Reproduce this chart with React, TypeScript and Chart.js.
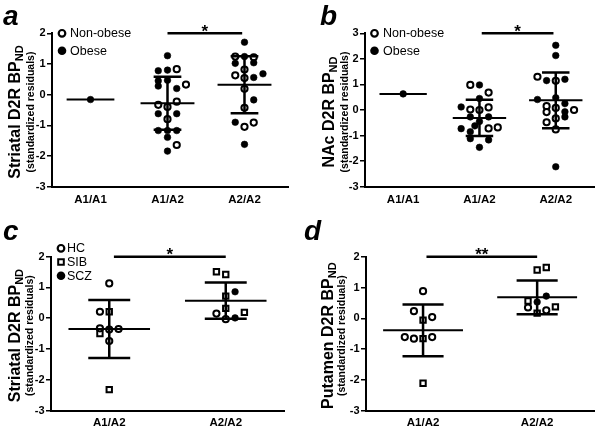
import React, { useEffect, useRef } from 'react';
import { Chart, registerables } from 'chart.js';
Chart.register(...registerables);

const FONT = '"Liberation Sans", Arial, Helvetica, sans-serif';

// [group (1-based category), jitter (x units), value]
type Pt = [number, number, number];
type Marker = 'open' | 'filled' | 'square';

// ---------------- Panel a ----------------
const catsAB = ['A1/A1', 'A1/A2', 'A2/A2'];
const catsCD = ['A1/A2', 'A2/A2'];

const aNonObese: Pt[] = [
  [2, 0.12, 0.83], [2, 0.24, 0.33], [2, -0.12, -0.33], [2, 0, -0.40], [2, 0.12, -0.23], [2, 0, -0.80], [2, 0.12, -1.64],
  [3, -0.12, 1.24], [3, 0.12, 1.22], [3, 0, 0.82], [3, -0.12, 0.63], [3, 0, 0.54], [3, 0, 0.19], [3, 0, -0.43], [3, 0, -1.05], [3, 0.12, -0.91],
];
const aObese: Pt[] = [
  [1, 0, -0.16],
  [2, 0, 1.27], [2, -0.12, 0.78], [2, 0, 0.80], [2, -0.12, 0.45], [2, 0, 0.47], [2, -0.12, 0.28], [2, 0.12, 0.20],
  [2, -0.12, -0.62], [2, 0.12, -0.62], [2, -0.12, -1.17], [2, 0, -1.17], [2, 0.12, -1.17], [2, 0, -1.39], [2, 0, -1.84],
  [3, 0, 1.71], [3, 0, 1.24], [3, -0.12, 1.02], [3, 0.12, 1.04], [3, 0.12, 0.56], [3, 0.24, 0.68], [3, 0.12, -0.17],
  [3, -0.12, -0.90], [3, 0, -1.62],
];
const aMeans = [-0.16, -0.28, 0.32];
const aSDs = [0, 0.86, 0.93];

// ---------------- Panel b ----------------
const bNonObese: Pt[] = [
  [2, -0.12, 0.98], [2, 0.12, 0.68], [2, -0.12, 0.02], [2, 0, 0.0], [2, 0.12, 0.10], [2, 0.12, -0.72], [2, 0.24, -0.68],
  [3, -0.24, 1.30], [3, 0, 1.14], [3, -0.12, 0.15], [3, 0, 0.08], [3, -0.12, -0.08], [3, 0.24, 0.0], [3, 0, -0.33],
  [3, -0.12, -0.48], [3, 0, -0.76],
];
const bObese: Pt[] = [
  [1, 0, 0.63],
  [2, 0, 0.98], [2, 0, 0.45], [2, -0.24, 0.12], [2, -0.12, -0.27], [2, 0.12, -0.27], [2, 0, -0.45], [2, -0.06, -0.62],
  [2, -0.24, -0.73], [2, -0.12, -0.85], [2, -0.12, -1.12], [2, 0.12, -1.17], [2, 0, -1.46],
  [3, 0, 2.53], [3, 0, 2.13], [3, -0.12, 1.15], [3, 0.12, 1.20], [3, -0.24, 0.41], [3, 0, 0.48], [3, 0.12, 0.25],
  [3, 0.12, -0.07], [3, 0.12, -0.27], [3, 0, -2.22],
];
const bMeans = [0.63, -0.31, 0.38];
const bSDs = [0, 0.71, 1.09];

// ---------------- Panel c ----------------
const cHC: Pt[] = [
  [1, 0, 1.13], [1, -0.08, 0.21], [1, -0.08, -0.33], [1, 0, -0.37], [1, 0.08, -0.35], [1, 0, -0.74],
  [2, -0.08, 0.15], [2, 0, -0.03],
];
const cSIB: Pt[] = [
  [1, 0, 0.21], [1, -0.08, -0.50], [1, 0, -2.32],
  [2, -0.08, 1.51], [2, 0, 1.42], [2, 0, 0.72], [2, 0, 0.32], [2, 0.16, 0.19],
];
const cSCZ: Pt[] = [[2, 0.08, 0.86], [2, 0.08, 0.01]];
const cMeans = [-0.35, 0.57];
const cSDs = [0.94, 0.59];

// ---------------- Panel d ----------------
const dHC: Pt[] = [
  [1, 0, 0.88], [1, -0.08, 0.23], [1, 0.08, 0.04], [1, -0.16, -0.61], [1, -0.08, -0.66], [1, 0.08, -0.61],
  [2, -0.08, 0.35], [2, 0.08, 0.26],
];
const dSIB: Pt[] = [
  [1, 0, -0.06], [1, 0, -0.66], [1, 0, -2.11],
  [2, 0, 1.57], [2, 0.08, 1.65], [2, -0.08, 0.56], [2, 0.16, 0.37], [2, 0, 0.17],
];
const dSCZ: Pt[] = [[2, 0.08, 0.72], [2, 0, 0.53]];
const dMeans = [-0.39, 0.68];
const dSDs = [0.84, 0.55];

interface SeriesDef { name: string; marker: Marker; pts: Pt[] }
interface PanelDef {
  letter: string;
  cats: string[];
  series: SeriesDef[];
  legend: boolean;
  means: number[];
  sds: number[];
  sig: { from: number; to: number; y: number; label: string };
  yMin: number;
  yMax: number;
  xMax: number;
  titleMain: string;
  titleSub: string;
  titleNote: string;
  box: { left: number; top: number; w: number; h: number };
  geo: {
    axisLeft: number; top: number; bottom: number; right: number;
    titleX: number; noteX: number; letterX: number;
    legendX: number; legendTextX: number; legendY: number; legendGap: number; labelPad: number;
  };
}

const panels: PanelDef[] = [
  {
    letter: 'a', cats: catsAB, legend: true,
    series: [
      { name: 'Obese', marker: 'filled', pts: aObese },
      { name: 'Non-obese', marker: 'open', pts: aNonObese },
    ],
    means: aMeans, sds: aSDs,
    sig: { from: 2.0, to: 2.97, y: 2, label: '*' },
    yMin: -3, yMax: 2, xMax: 3.565,
    titleMain: 'Striatal D2R BP', titleSub: 'ND', titleNote: '(standardized residuals)',
    box: { left: 0, top: 0, w: 300, h: 215 },
    geo: { axisLeft: 52, top: 33.3, bottom: 186.7, right: 288, titleX: 14, noteX: 31, letterX: 3,
      legendX: 62, legendTextX: 70, legendY: 33.3, legendGap: 17.5, labelPad: 6.5 },
  },
  {
    letter: 'b', cats: catsAB, legend: true,
    series: [
      { name: 'Obese', marker: 'filled', pts: bObese },
      { name: 'Non-obese', marker: 'open', pts: bNonObese },
    ],
    means: bMeans, sds: bSDs,
    sig: { from: 2.03, to: 2.97, y: 3, label: '*' },
    yMin: -3, yMax: 3, xMax: 3.513,
    titleMain: 'NAc D2R BP', titleSub: 'ND', titleNote: '(standardized residuals)',
    box: { left: 300, top: 0, w: 300, h: 215 },
    geo: { axisLeft: 65, top: 33.3, bottom: 186.7, right: 297, titleX: 28, noteX: 45, letterX: 20,
      legendX: 74.5, legendTextX: 83, legendY: 33.3, legendGap: 17.5, labelPad: 6.5 },
  },
  {
    letter: 'c', cats: catsCD, legend: true,
    series: [
      { name: 'HC', marker: 'open', pts: cHC },
      { name: 'SIB', marker: 'square', pts: cSIB },
      { name: 'SCZ', marker: 'filled', pts: cSCZ },
    ],
    means: cMeans, sds: cSDs,
    sig: { from: 1.04, to: 2.0, y: 2, label: '*' },
    yMin: -3, yMax: 2, xMax: 2.5,
    titleMain: 'Striatal D2R BP', titleSub: 'ND', titleNote: '(standardized residuals)',
    box: { left: 0, top: 215, w: 300, h: 214 },
    geo: { axisLeft: 51, top: 41.7, bottom: 195.5, right: 284, titleX: 14, noteX: 30, letterX: 3,
      legendX: 61, legendTextX: 67, legendY: 33.3, legendGap: 13.7, labelPad: 5 },
  },
  {
    letter: 'd', cats: catsCD, legend: false,
    series: [
      { name: 'HC', marker: 'open', pts: dHC },
      { name: 'SIB', marker: 'square', pts: dSIB },
      { name: 'SCZ', marker: 'filled', pts: dSCZ },
    ],
    means: dMeans, sds: dSDs,
    sig: { from: 1.03, to: 2.0, y: 2, label: '**' },
    yMin: -3, yMax: 2, xMax: 2.5,
    titleMain: 'Putamen D2R BP', titleSub: 'ND', titleNote: '(standardized residuals)',
    box: { left: 300, top: 215, w: 300, h: 214 },
    geo: { axisLeft: 66, top: 41.7, bottom: 195.7, right: 297, titleX: 27, noteX: 42.5, letterX: 4,
      legendX: 0, legendTextX: 0, legendY: 0, legendGap: 0, labelPad: 5 },
  },
];

function drawMarker(ctx: CanvasRenderingContext2D, kind: Marker, x: number, y: number) {
  ctx.save();
  ctx.strokeStyle = '#000';
  ctx.fillStyle = kind === 'filled' ? '#000' : '#fff';
  ctx.beginPath();
  if (kind === 'square') {
    const s = 2.8;
    ctx.rect(x - s, y - s, 2 * s, 2 * s);
    ctx.fill();
    ctx.lineWidth = 2;
    ctx.stroke();
  } else if (kind === 'open') {
    ctx.arc(x, y, 3.3, 0, Math.PI * 2);
    ctx.fill();
    ctx.lineWidth = 2.2;
    ctx.stroke();
  } else {
    ctx.arc(x, y, 4.3, 0, Math.PI * 2);
    ctx.fill();
  }
  ctx.restore();
}

function makeDecor(p: PanelDef) {
  return {
    id: 'decor_' + p.letter,
    afterDatasetsDraw(chart: any) {
      const ctx: CanvasRenderingContext2D = chart.ctx;
      const xs = chart.scales.x;
      const ys = chart.scales.y;
      const g = p.geo;
      ctx.save();
      ctx.strokeStyle = '#000';
      ctx.fillStyle = '#000';
      ctx.lineCap = 'butt';

      // mean and SD bars
      p.means.forEach((m, i) => {
        const c = i + 1;
        const sd = p.sds[i];
        const half = sd > 0 ? 0.35 : 0.31;
        const cap = 0.18;
        const yM = ys.getPixelForValue(m);
        ctx.lineWidth = 2;
        ctx.beginPath();
        ctx.moveTo(xs.getPixelForValue(c - half), yM);
        ctx.lineTo(xs.getPixelForValue(c + half), yM);
        ctx.stroke();
        if (sd > 0) {
          const yT = ys.getPixelForValue(m + sd);
          const yB = ys.getPixelForValue(m - sd);
          const xc = xs.getPixelForValue(c);
          ctx.lineWidth = 2.5;
          ctx.beginPath();
          ctx.moveTo(xc, yT);
          ctx.lineTo(xc, yB);
          ctx.moveTo(xs.getPixelForValue(c - cap), yT);
          ctx.lineTo(xs.getPixelForValue(c + cap), yT);
          ctx.moveTo(xs.getPixelForValue(c - cap), yB);
          ctx.lineTo(xs.getPixelForValue(c + cap), yB);
          ctx.stroke();
        }
      });

      // significance bar
      const sy = ys.getPixelForValue(p.sig.y);
      const sx1 = xs.getPixelForValue(p.sig.from);
      const sx2 = xs.getPixelForValue(p.sig.to);
      ctx.lineWidth = 2.5;
      ctx.beginPath();
      ctx.moveTo(sx1, sy);
      ctx.lineTo(sx2, sy);
      ctx.stroke();
      ctx.font = `bold 17px ${FONT}`;
      ctx.textAlign = 'center';
      ctx.textBaseline = 'alphabetic';
      ctx.fillText(p.sig.label, (sx1 + sx2) / 2, sy + 3.5);

      // legend
      if (p.legend) {
        const items = p.series.slice().sort((a, b) => {
          const order: Record<string, number> = { open: 0, square: 1, filled: 2 };
          return order[a.marker] - order[b.marker];
        });
        ctx.font = `12.5px ${FONT}`;
        ctx.textAlign = 'left';
        ctx.textBaseline = 'middle';
        items.forEach((s, k) => {
          const y = g.legendY + k * g.legendGap;
          drawMarker(ctx, s.marker, g.legendX, y);
          ctx.fillStyle = '#000';
          ctx.fillText(s.name, g.legendTextX, y + 0.5);
        });
      }

      // y-axis title with subscript
      const cy = (chart.chartArea.top + chart.chartArea.bottom) / 2 + 2;
      ctx.save();
      ctx.translate(g.titleX, cy);
      ctx.rotate(-Math.PI / 2);
      ctx.font = `bold 16px ${FONT}`;
      const w1 = ctx.measureText(p.titleMain).width;
      ctx.font = `bold 11px ${FONT}`;
      const w2 = ctx.measureText(p.titleSub).width;
      const start = -(w1 + w2) / 2;
      ctx.textAlign = 'left';
      ctx.textBaseline = 'alphabetic';
      ctx.font = `bold 16px ${FONT}`;
      ctx.fillText(p.titleMain, start, 5.5);
      ctx.font = `bold 11px ${FONT}`;
      ctx.fillText(p.titleSub, start + w1, 8.5);
      ctx.restore();

      ctx.save();
      ctx.translate(g.noteX, cy);
      ctx.rotate(-Math.PI / 2);
      ctx.font = `bold 10.5px ${FONT}`;
      ctx.textAlign = 'center';
      ctx.textBaseline = 'middle';
      ctx.fillText(p.titleNote, 0, 0);
      ctx.restore();

      // panel letter
      ctx.font = `italic bold 28px ${FONT}`;
      ctx.textAlign = 'left';
      ctx.textBaseline = 'alphabetic';
      ctx.fillText(p.letter, g.letterX, 25);

      ctx.restore();
    },
  };
}

function build(canvas: HTMLCanvasElement, p: PanelDef) {
  const g = p.geo;
  const datasets = p.series.map((s) => ({
    label: s.name,
    data: s.pts.map(([grp, j, v]) => ({ x: grp + j, y: v })),
    showLine: false,
    pointStyle: s.marker === 'square' ? 'rect' : 'circle',
    pointRadius: s.marker === 'square' ? 3.8 : s.marker === 'open' ? 3.1 : 3.3,
    pointBorderWidth: s.marker === 'filled' ? 0.6 : 2,
    pointBackgroundColor: s.marker === 'filled' ? '#000' : '#fff',
    pointBorderColor: '#000',
    pointHoverRadius: 3,
  }));
  return new Chart(canvas, {
    type: 'scatter',
    data: { datasets } as any,
    options: {
      animation: false,
      responsive: false,
      devicePixelRatio: 1,
      events: [],
      layout: { padding: { left: 0, top: g.top, right: p.box.w - g.right, bottom: 0 } },
      plugins: { legend: { display: false }, tooltip: { enabled: false } },
      scales: {
        x: {
          type: 'linear',
          min: 0.5,
          max: p.xMax,
          afterBuildTicks: (s: any) => {
            s.ticks = p.cats.map((_, i) => ({ value: i + 1 }));
          },
          afterFit: (s: any) => {
            s.height = p.box.h - g.bottom;
          },
          ticks: {
            callback: (v: any) => p.cats[Math.round(Number(v)) - 1] ?? '',
            font: { family: FONT, size: 11.5, weight: 'bold' },
            color: '#000',
            padding: g.labelPad,
            autoSkip: false,
            maxRotation: 0,
          },
          grid: { display: false, drawTicks: false },
          border: { display: true, color: '#000', width: 2 },
        },
        y: {
          type: 'linear',
          min: p.yMin,
          max: p.yMax,
          afterFit: (s: any) => {
            s.width = g.axisLeft;
          },
          ticks: {
            stepSize: 1,
            font: { family: FONT, size: 11, weight: 'bold' },
            color: '#000',
            padding: 1.5,
          },
          grid: { display: true, drawOnChartArea: false, drawTicks: true, tickLength: 5, color: '#000', lineWidth: 1.5 },
          border: { display: true, color: '#000', width: 2 },
        },
      },
    } as any,
    plugins: [makeDecor(p)],
  });
}

function Panel({ def }: { def: PanelDef }) {
  const ref = useRef<HTMLCanvasElement>(null);
  useEffect(() => {
    const chart = build(ref.current as HTMLCanvasElement, def);
    return () => chart.destroy();
  }, [def]);
  return (
    <canvas
      ref={ref}
      width={def.box.w}
      height={def.box.h}
      style={{ position: 'absolute', left: def.box.left, top: def.box.top, width: def.box.w, height: def.box.h }}
    />
  );
}

export default function App() {
  return (
    <div style={{ position: 'absolute', left: 0, top: 0, width: 600, height: 429, background: '#fff', overflow: 'hidden' }}>
      {panels.map((p) => (
        <Panel key={p.letter} def={p} />
      ))}
    </div>
  );
}
